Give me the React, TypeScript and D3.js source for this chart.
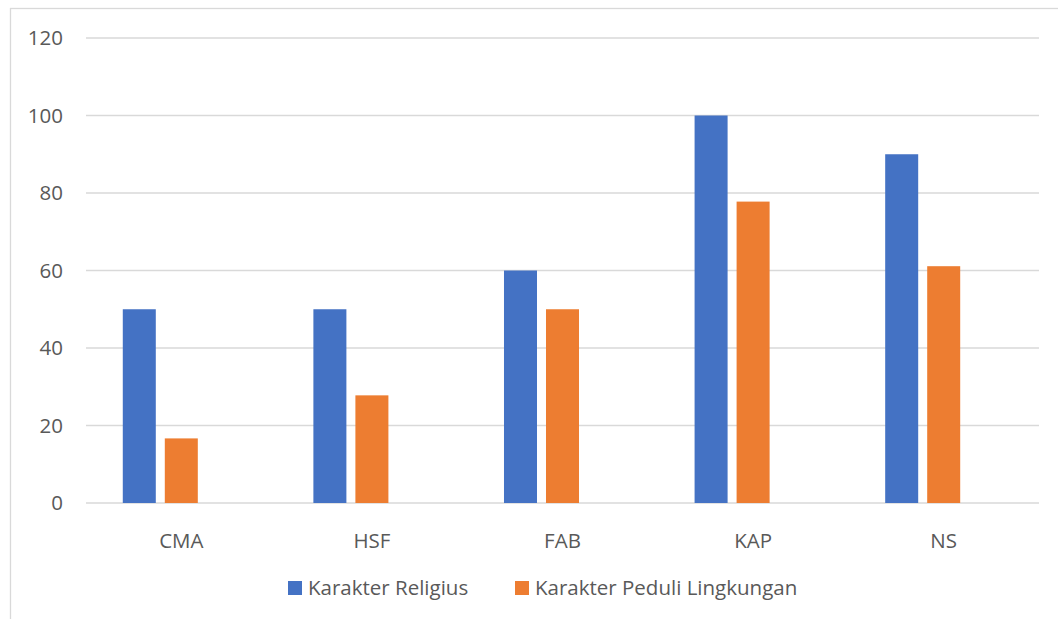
import React, { useEffect, useRef } from "react";
import * as d3 from "d3";

const categories = ["CMA", "HSF", "FAB", "KAP", "NS"];
const religius = [50, 50, 60, 100, 90];
const peduli = [16.67, 27.78, 50, 77.78, 61.11];
const seriesNames = ["Karakter Religius", "Karakter Peduli Lingkungan"];
const seriesColors = ["#4472C4", "#ED7D31"];
const yTicks = [0, 20, 40, 60, 80, 100, 120];

const W = 1058;
const H = 619;
const FONT = "'Open Sans', sans-serif";
const FS = 20.5;
const TEXT = "#595959";
const GRID = "#d9d9d9";

const App = () => {
   const svgRef = useRef<SVGSVGElement>(null);

   useEffect(() => {
      const svg = d3.select(svgRef.current);
      svg.selectAll("*").remove();

      const margin = { top: 38, bottom: 116, left: 86, right: 19 };

      // ---------------------- scale
      const scale = {
         x: d3
            .scaleBand()
            .domain(categories)
            .range([margin.left, W - margin.right]),
         y: d3
            .scaleLinear()
            .domain([0, 120])
            .range([H - margin.bottom, margin.top])
      };

      // excel keeps room for a third (empty) series in each group
      const groupW = scale.x.bandwidth() * 0.614;
      const inner = d3
         .scaleBand<number>()
         .domain([0, 1, 2])
         .range([0, groupW])
         .paddingInner(9 / 42);

      // ---------------------- frame
      svg.append("rect")
         .attr("x", 10.5)
         .attr("y", 8.5)
         .attr("width", W)
         .attr("height", H)
         .attr("fill", "#fff")
         .attr("stroke", GRID)
         .attr("stroke-width", 1.3);

      // ---------------------- grid + y labels
      const grid = svg.append("g");
      grid.selectAll("line")
         .data(yTicks)
         .join("line")
         .attr("x1", margin.left)
         .attr("x2", W - margin.right)
         .attr("y1", d => scale.y(d))
         .attr("y2", d => scale.y(d))
         .attr("stroke", GRID)
         .attr("stroke-width", 1.5);

      grid.selectAll("text")
         .data(yTicks)
         .join("text")
         .attr("x", 63)
         .attr("y", d => scale.y(d))
         .attr("dy", "0.36em")
         .attr("text-anchor", "end")
         .attr("font-family", FONT)
         .attr("font-size", FS)
         .attr("fill", TEXT)
         .text(d => d);

      // -------------------- bars
      const rows = categories.map((c, i) => ({
         cat: c,
         values: [religius[i], peduli[i]]
      }));

      svg.selectAll(".group")
         .data(rows)
         .join("g")
         .attr("class", "group")
         .attr(
            "transform",
            d =>
               `translate(${scale.x(d.cat)! +
                  (scale.x.bandwidth() - groupW) / 2}, 0)`
         )
         .selectAll("rect")
         .data(d => d.values.map((v, k) => ({ k, v })))
         .join("rect")
         .attr("x", d => inner(d.k)!)
         .attr("width", inner.bandwidth())
         .attr("y", d => scale.y(d.v))
         .attr("height", d => scale.y(0) - scale.y(d.v))
         .attr("fill", d => seriesColors[d.k]);

      // -------------------- x labels
      svg.append("g")
         .selectAll("text")
         .data(categories)
         .join("text")
         .attr("x", d => scale.x(d)! + scale.x.bandwidth() / 2)
         .attr("y", 548)
         .attr("text-anchor", "middle")
         .attr("font-family", FONT)
         .attr("font-size", FS)
         .attr("fill", TEXT)
         .text(d => d);

      // -------------------- legend
      const legendX = [288, 515];
      const legend = svg.append("g")
         .selectAll("g")
         .data(seriesNames)
         .join("g")
         .attr("transform", (d, i) => `translate(${legendX[i]}, 581)`);
      legend.append("rect")
         .attr("width", 14)
         .attr("height", 14)
         .attr("fill", (d, i) => seriesColors[i]);
      legend.append("text")
         .attr("x", 20)
         .attr("y", 14)
         .attr("font-family", FONT)
         .attr("font-size", FS)
         .attr("fill", TEXT)
         .text(d => d);
   }, []);

   return (
      <svg
         ref={svgRef}
         width={W}
         height={H}
         style={{ position: "absolute", left: 0, top: 0 }}
      />
   );
};

export default App;
